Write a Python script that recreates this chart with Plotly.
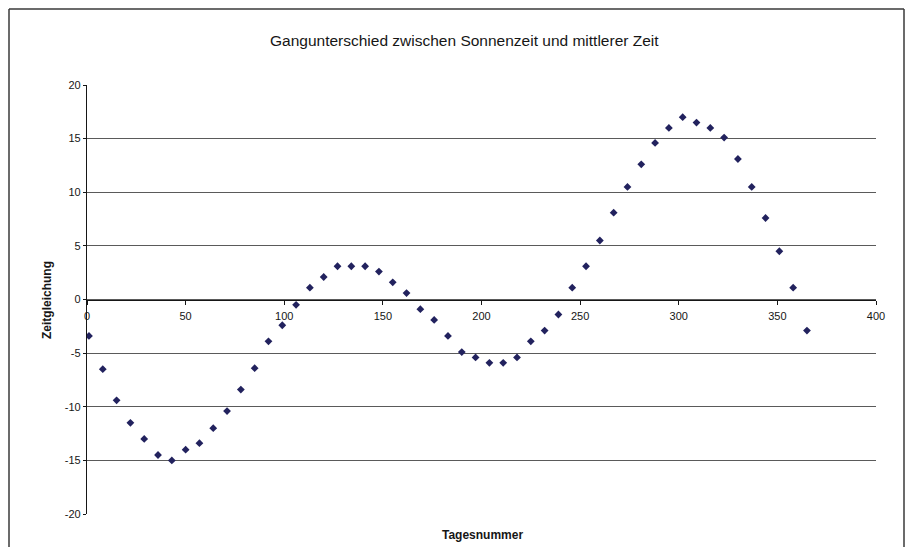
import plotly.graph_objects as go

# Day numbers (Tagesnummer) and equation of time values (Zeitgleichung, minutes)
tage = [1, 8, 15, 22, 29, 36, 43, 50, 57, 64, 71, 78, 85, 92, 99, 106, 113, 120,
        127, 134, 141, 148, 155, 162, 169, 176, 183, 190, 197, 204, 211, 218, 225,
        232, 239, 246, 253, 260, 267, 274, 281, 288, 295, 302, 309, 316, 323, 330,
        337, 344, 351, 358, 365]
zeitgleichung = [-3.4, -6.5, -9.4, -11.5, -13.0, -14.5, -15.0, -14.0, -13.4, -12.0,
                 -10.4, -8.4, -6.4, -3.9, -2.4, -0.5, 1.1, 2.1, 3.1, 3.1, 3.1, 2.6,
                 1.6, 0.6, -0.9, -1.9, -3.4, -4.9, -5.4, -5.9, -5.9, -5.4, -3.9,
                 -2.9, -1.4, 1.1, 3.1, 5.5, 8.1, 10.5, 12.6, 14.6, 16.0, 17.0, 16.5,
                 16.0, 15.1, 13.1, 10.5, 7.6, 4.5, 1.1, -2.9]

x_ticks = [0, 50, 100, 150, 200, 250, 300, 350, 400]
y_ticks = [-20, -15, -10, -5, 0, 5, 10, 15, 20]

titel = "Gangunterschied zwischen Sonnenzeit und mittlerer Zeit"
x_titel = "Tagesnummer"
y_titel = "Zeitgleichung"

FONT = "Liberation Sans, Arial, sans-serif"
INK = "#161616"

# page has an 8px body margin; work in page pixels and convert
OFF = 8
W, H = 913 - 2 * OFF, 555 - 2 * OFF
L, T = 87 - OFF, 85 - OFF
R = W - (876 - OFF)
B = H - (514 - OFF)
pw, ph = W - L - R, H - T - B

def px_x(p):
    return (p - OFF - L) / pw

def px_y(p):
    return (H - B - (p - OFF)) / ph

fig = go.Figure()
fig.add_trace(go.Scatter(
    x=tage, y=zeitgleichung, mode="markers",
    marker=dict(symbol="diamond", size=6, color="#22225e"),
    showlegend=False,
))

frame = dict(color="#3a3a3a", width=1.5)

fig.update_layout(
    width=W, height=H,
    margin=dict(l=L, r=R, t=T, b=B),
    paper_bgcolor="white", plot_bgcolor="white",
    font=dict(family=FONT, size=11, color=INK),
    xaxis=dict(
        range=[0, 400], tickvals=x_ticks, ticktext=[str(v) for v in x_ticks],
        anchor="free", position=0.5, showline=True, linecolor=INK, linewidth=1.3,
        ticks="outside", ticklen=4, tickcolor=INK, tickwidth=1,
        ticklabelstandoff=2,
        showgrid=False, zeroline=False, tickfont=dict(size=11, color=INK),
    ),
    yaxis=dict(
        range=[-20, 20], tickvals=y_ticks, ticktext=[str(v) for v in y_ticks],
        showline=True, linecolor=INK, linewidth=1.3,
        ticks="outside", ticklen=3, tickcolor=INK, tickwidth=1,
        showgrid=True, gridcolor="#5a5a5a", gridwidth=1.2, zeroline=False,
        tickfont=dict(size=11, color=INK),
    ),
    annotations=[
        dict(text=titel, x=px_x(464.5), y=px_y(41), xref="paper", yref="paper",
             showarrow=False, font=dict(size=15.5, color=INK, family=FONT),
             xanchor="center", yanchor="middle"),
        dict(text="<b>" + x_titel + "</b>", x=px_x(482), y=px_y(535), xref="paper", yref="paper",
             showarrow=False, font=dict(size=12, color=INK, family=FONT),
             xanchor="center", yanchor="middle"),
        dict(text="<b>" + y_titel + "</b>", x=px_x(47), y=px_y(300), xref="paper", yref="paper",
             showarrow=False, textangle=-90, font=dict(size=12, color=INK, family=FONT),
             xanchor="center", yanchor="middle"),
    ],
    shapes=[
        # scanned page frame: left, top and right edges
        dict(type="line", xref="paper", yref="paper",
             x0=px_x(9), x1=px_x(9), y0=px_y(555), y1=px_y(9), line=frame),
        dict(type="line", xref="paper", yref="paper",
             x0=px_x(9), x1=px_x(904), y0=px_y(9), y1=px_y(9), line=frame),
        dict(type="line", xref="paper", yref="paper",
             x0=px_x(904), x1=px_x(904), y0=px_y(555), y1=px_y(9), line=frame),
    ],
)

fig.write_html("out.html")
